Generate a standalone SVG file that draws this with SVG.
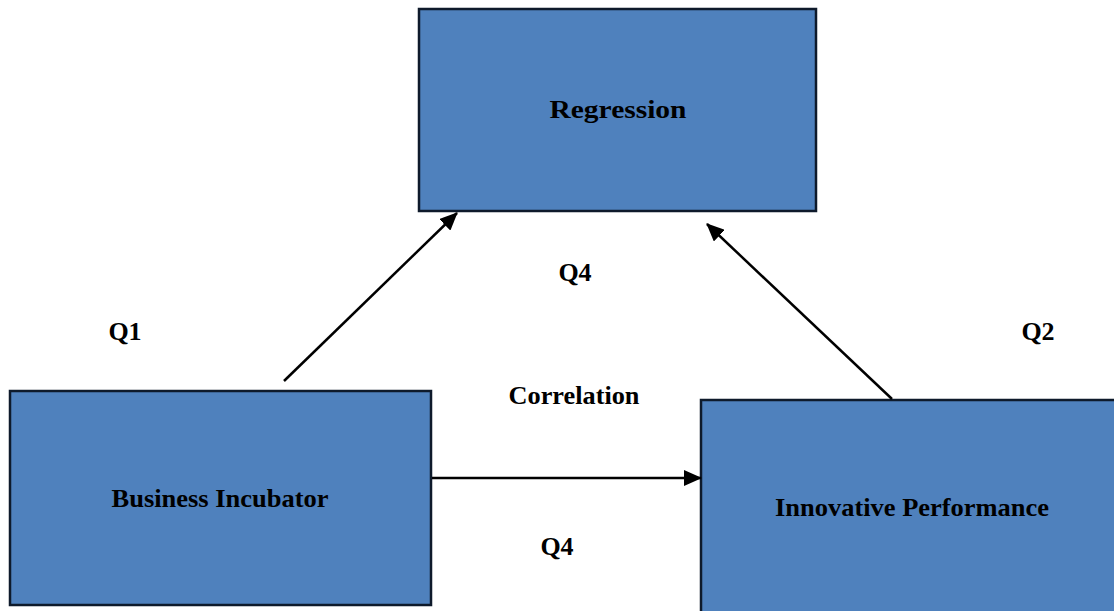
<svg xmlns="http://www.w3.org/2000/svg" width="1114" height="611" viewBox="0 0 1114 611">
<style>
.box{fill:#4f81bd;stroke:#0e1a2b;stroke-width:2.5}
.t{font-family:"Liberation Serif","Times New Roman",serif;font-weight:bold;font-size:26px;fill:#000}
.c{stroke:#000;stroke-width:2.5;fill:none}
</style>
<defs>
<marker id="ah" markerWidth="10" markerHeight="10" refX="9" refY="5" orient="auto" markerUnits="userSpaceOnUse" viewBox="0 0 10 10">
<path d="M0,0 L10,5 L0,10 z" fill="#000"/>
</marker>
<marker id="ah2" markerWidth="18" markerHeight="16" refX="17" refY="8" orient="auto" markerUnits="userSpaceOnUse" viewBox="0 0 18 16">
<path d="M0,0 L18,8 L0,16 z" fill="#000"/>
</marker>
</defs>
<rect width="1114" height="611" fill="#fff"/>
<g id="regression">
<rect class="box" x="419" y="9" width="397" height="202"/>
<text class="t" x="618" y="118" text-anchor="middle" textLength="137" lengthAdjust="spacingAndGlyphs">Regression</text>
</g>
<g id="business-incubator">
<rect class="box" x="10" y="391" width="421" height="214"/>
<text class="t" x="220" y="507" text-anchor="middle" textLength="217" lengthAdjust="spacingAndGlyphs">Business Incubator</text>
</g>
<g id="innovative-performance">
<rect class="box" x="701" y="400" width="420" height="220"/>
<text class="t" x="912" y="516" text-anchor="middle" textLength="274" lengthAdjust="spacingAndGlyphs">Innovative Performance</text>
</g>
<g id="connectors">
<line class="c" x1="284" y1="381" x2="457" y2="213" marker-end="url(#ah2)"/>
<line class="c" x1="892" y1="399" x2="707" y2="224" marker-end="url(#ah2)"/>
<line class="c" x1="432" y1="478" x2="701" y2="478" marker-end="url(#ah2)"/>
</g>
<g id="labels">
<text class="t" x="575" y="281" text-anchor="middle">Q4</text>
<text class="t" x="125" y="340" text-anchor="middle">Q1</text>
<text class="t" x="1038" y="340" text-anchor="middle">Q2</text>
<text class="t" x="574" y="404" text-anchor="middle" textLength="131" lengthAdjust="spacingAndGlyphs">Correlation</text>
<text class="t" x="557" y="555" text-anchor="middle">Q4</text>
</g>
</svg>
